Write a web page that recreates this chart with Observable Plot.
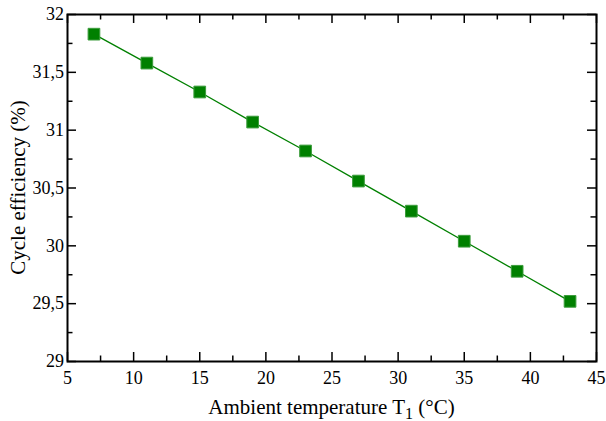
<!DOCTYPE html>
<html><head><meta charset="utf-8">
<script src="https://cdn.jsdelivr.net/npm/d3@7"></script>
<script src="https://cdn.jsdelivr.net/npm/@observablehq/plot@0.6"></script>
<style>body{margin:0;background:#fff;} svg, svg text, svg tspan {font-family:'Liberation Serif' !important;} svg g.ticklab text {font-size:18px !important;}</style>
</head><body><div id="chart"></div>
<script>
const temperature = [7, 11, 15, 19, 23, 27, 31, 35, 39, 43];
const efficiency = [31.83, 31.58, 31.33, 31.07, 30.82, 30.56, 30.30, 30.04, 29.78, 29.52];
const xMajor = [5, 10, 15, 20, 25, 30, 35, 40, 45];
const xMinor = [7.5, 12.5, 17.5, 22.5, 27.5, 32.5, 37.5, 42.5];
const yMajor = [29, 29.5, 30, 30.5, 31, 31.5, 32];
const yMinor = [29.25, 29.75, 30.25, 30.75, 31.25, 31.75];
const xLabel = "Ambient temperature T";
const yLabel = "Cycle efficiency (%)";

const data = temperature.map((t, i) => ({t, e: efficiency[i]}));
const W = 606, H = 421, mL = 67, mR = 10, mT = 14, mB = 60;
const fw = W - mL - mR, fh = H - mT - mB;
const comma = d => String(d).replace(".", ",");
const tk = "#000";
const plot = Plot.plot({
  width: W, height: H,
  marginLeft: mL, marginRight: mR, marginTop: mT, marginBottom: mB,
  style: {fontSize: "18px", color: "#000", background: "#fff"},
  x: {domain: [5, 45], axis: null},
  y: {domain: [29, 32], axis: null},
  marks: [
    Plot.text(xMajor, {x: d => d, frameAnchor: "bottom", text: d => String(d), lineAnchor: "top", dy: 9.5, fontSize: 18, fill: "#000", className: "ticklab"}),
    Plot.text(yMajor, {y: d => d, frameAnchor: "left", text: comma, textAnchor: "end", dx: -3.5, fontSize: 18, fill: "#000", className: "ticklab"}),
    Plot.tickX(xMajor, {x: d => d, insetTop: fh - 9, stroke: tk, strokeWidth: 1.5}),
    Plot.tickX(xMajor, {x: d => d, insetBottom: fh - 9, stroke: tk, strokeWidth: 1.5}),
    Plot.tickX(xMinor, {x: d => d, insetTop: fh - 5.5, stroke: tk, strokeWidth: 1.5}),
    Plot.tickX(xMinor, {x: d => d, insetBottom: fh - 5.5, stroke: tk, strokeWidth: 1.5}),
    Plot.tickY(yMajor, {y: d => d, insetRight: fw - 9, stroke: tk, strokeWidth: 1.5}),
    Plot.tickY(yMajor, {y: d => d, insetLeft: fw - 9, stroke: tk, strokeWidth: 1.5}),
    Plot.tickY(yMinor, {y: d => d, insetRight: fw - 5.5, stroke: tk, strokeWidth: 1.5}),
    Plot.tickY(yMinor, {y: d => d, insetLeft: fw - 5.5, stroke: tk, strokeWidth: 1.5}),
    Plot.frame({stroke: tk, strokeWidth: 2}),
    Plot.line(data, {x: "t", y: "e", stroke: "#008000", strokeWidth: 1.3}),
    Plot.dot(data, {x: "t", y: "e", symbol: "square", r: 6.6, fill: "#008000", stroke: "#3c9c3c", strokeWidth: 1})
  ]
});
document.getElementById("chart").appendChild(plot);
const svg = d3.select(plot);
const xt = svg.append("text")
  .attr("x", mL + fw / 2).attr("y", 413.5)
  .attr("text-anchor", "middle").attr("font-size", 21).attr("fill", "#000");
xt.append("tspan").text(xLabel);
xt.append("tspan").attr("font-size", 16).attr("dy", 5).text("1");
xt.append("tspan").attr("dy", -5).text(" (°C)");
svg.append("text")
  .attr("transform", `translate(25,${mT + fh / 2}) rotate(-90)`)
  .attr("text-anchor", "middle").attr("font-size", 21).attr("fill", "#000")
  .text(yLabel);
</script></body></html>
